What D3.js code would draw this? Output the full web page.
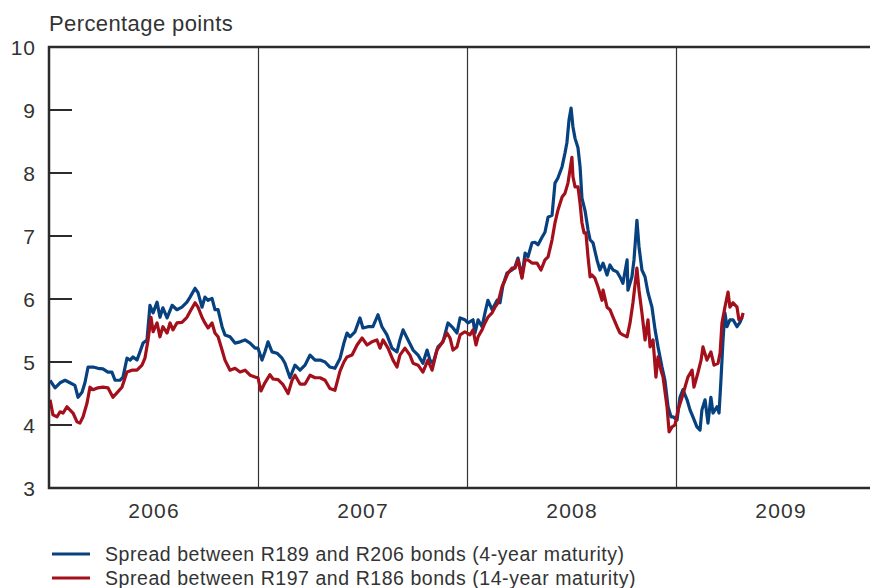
<!DOCTYPE html>
<html>
<head>
<meta charset="utf-8">
<script src="https://cdn.jsdelivr.net/npm/d3@7"></script>
<style>
  body { margin: 0; background: #fff; }
  text { font-family: "Liberation Sans", Arial, sans-serif; fill: #333; }
</style>
</head>
<body>
<svg id="chart" width="870" height="588"></svg>
<script>
// time is in decimal years
const yTicks = [3, 4, 5, 6, 7, 8, 9, 10];
const years = [2006, 2007, 2008, 2009];
const seriesNames = [
    "Spread between R189 and R206 bonds (4-year maturity)",
    "Spread between R197 and R186 bonds (14-year maturity)"
];

const blueTime = [2006.005,2006.029,2006.053,2006.077,2006.100,2006.124,2006.139,2006.158,2006.172,2006.187,
    2006.211,2006.234,2006.258,2006.282,2006.301,2006.316,2006.340,2006.354,2006.373,2006.388,
    2006.402,2006.421,2006.435,2006.450,2006.469,2006.483,2006.498,2006.517,2006.531,2006.545,
    2006.565,2006.589,2006.612,2006.636,2006.660,2006.675,2006.699,2006.713,2006.732,2006.746,
    2006.761,2006.780,2006.794,2006.809,2006.828,2006.842,2006.866,2006.890,2006.914,2006.938,
    2006.962,2006.986,2007.000,2007.019,2007.033,2007.048,2007.067,2007.091,2007.115,2007.129,
    2007.153,2007.177,2007.201,2007.225,2007.249,2007.273,2007.297,2007.321,2007.344,2007.368,
    2007.392,2007.411,2007.426,2007.440,2007.464,2007.488,2007.502,2007.526,2007.550,2007.574,
    2007.593,2007.617,2007.641,2007.665,2007.679,2007.694,2007.718,2007.742,2007.766,2007.789,
    2007.809,2007.823,2007.837,2007.861,2007.885,2007.909,2007.933,2007.952,2007.967,2007.990,
    2008.005,2008.029,2008.038,2008.053,2008.072,2008.086,2008.100,2008.120,2008.144,2008.158,
    2008.172,2008.191,2008.215,2008.230,2008.244,2008.263,2008.278,2008.292,2008.311,2008.325,
    2008.340,2008.359,2008.373,2008.388,2008.407,2008.421,2008.435,2008.455,2008.469,2008.478,
    2008.488,2008.498,2008.507,2008.517,2008.531,2008.541,2008.550,2008.565,2008.579,2008.589,
    2008.603,2008.622,2008.636,2008.651,2008.670,2008.684,2008.699,2008.718,2008.732,2008.746,
    2008.766,2008.770,2008.789,2008.799,2008.813,2008.823,2008.837,2008.852,2008.866,2008.885,
    2008.900,2008.914,2008.933,2008.947,2008.962,2008.976,2008.986,2009.005,2009.019,2009.033,
    2009.053,2009.067,2009.081,2009.100,2009.115,2009.124,2009.139,2009.153,2009.167,2009.177,
    2009.196,2009.206,2009.215,2009.225,2009.234,2009.244,2009.258,2009.273,2009.292,2009.306,
    2009.316];
const blueValues = [4.71,4.59,4.67,4.71,4.67,4.63,4.44,4.52,4.67,4.92,
    4.92,4.90,4.89,4.84,4.84,4.71,4.71,4.76,5.06,5.03,
    5.08,5.03,5.16,5.30,5.35,5.90,5.78,5.95,5.71,5.86,
    5.70,5.90,5.83,5.87,5.95,6.03,6.17,6.10,5.87,6.03,
    5.98,6.01,5.83,5.83,5.56,5.43,5.40,5.30,5.32,5.35,
    5.30,5.22,5.22,5.03,5.16,5.32,5.16,5.14,5.06,4.98,
    4.75,4.95,4.87,4.95,5.11,5.03,5.03,5.00,4.92,4.90,
    5.05,5.30,5.46,5.40,5.48,5.70,5.54,5.56,5.56,5.75,
    5.56,5.43,5.22,5.16,5.35,5.51,5.35,5.19,5.11,4.98,
    5.19,5.03,4.98,5.24,5.32,5.62,5.54,5.46,5.70,5.67,
    5.62,5.67,5.46,5.67,5.56,5.78,5.98,5.83,5.98,5.94,
    6.22,6.41,6.46,6.51,6.65,6.35,6.73,6.67,6.89,6.90,
    6.86,6.98,7.06,7.30,7.33,7.84,7.92,8.10,8.32,8.48,
    8.84,9.03,8.73,8.55,8.40,8.10,7.60,7.40,7.10,6.94,
    6.89,6.62,6.46,6.57,6.38,6.54,6.46,6.43,6.35,6.25,
    6.62,6.14,6.35,6.62,7.25,6.83,6.46,6.35,6.10,5.87,
    5.51,5.24,4.92,4.71,4.29,4.13,4.13,4.08,4.44,4.56,
    4.40,4.24,4.13,3.97,3.92,4.24,4.40,4.03,4.44,4.19,
    4.29,4.19,4.71,5.35,5.78,5.56,5.67,5.67,5.56,5.63,
    5.71];

const redTime = [2006.005,2006.019,2006.038,2006.053,2006.067,2006.086,2006.100,2006.115,2006.134,2006.148,
    2006.163,2006.182,2006.196,2006.211,2006.234,2006.258,2006.282,2006.306,2006.325,2006.349,
    2006.373,2006.397,2006.421,2006.445,2006.459,2006.474,2006.488,2006.498,2006.517,2006.531,
    2006.545,2006.565,2006.579,2006.593,2006.612,2006.636,2006.660,2006.675,2006.699,2006.713,
    2006.732,2006.746,2006.761,2006.780,2006.794,2006.809,2006.828,2006.842,2006.866,2006.890,
    2006.914,2006.938,2006.962,2006.986,2007.000,2007.014,2007.033,2007.057,2007.072,2007.096,
    2007.120,2007.144,2007.163,2007.177,2007.201,2007.225,2007.249,2007.273,2007.297,2007.321,
    2007.344,2007.368,2007.392,2007.411,2007.426,2007.450,2007.474,2007.498,2007.522,2007.545,
    2007.569,2007.584,2007.598,2007.622,2007.646,2007.665,2007.679,2007.703,2007.727,2007.742,
    2007.766,2007.789,2007.813,2007.833,2007.856,2007.880,2007.904,2007.919,2007.933,2007.952,
    2007.967,2007.990,2008.014,2008.029,2008.043,2008.053,2008.072,2008.086,2008.100,2008.120,
    2008.134,2008.148,2008.167,2008.182,2008.196,2008.215,2008.230,2008.244,2008.263,2008.278,
    2008.292,2008.311,2008.335,2008.354,2008.373,2008.388,2008.407,2008.421,2008.435,2008.455,
    2008.469,2008.483,2008.493,2008.502,2008.507,2008.517,2008.531,2008.541,2008.550,2008.560,
    2008.569,2008.579,2008.589,2008.598,2008.612,2008.627,2008.646,2008.651,2008.670,2008.684,
    2008.699,2008.718,2008.732,2008.746,2008.766,2008.780,2008.794,2008.813,2008.823,2008.837,
    2008.852,2008.866,2008.876,2008.890,2008.904,2008.914,2008.928,2008.938,2008.957,2008.967,
    2008.981,2008.995,2009.010,2009.029,2009.043,2009.057,2009.077,2009.086,2009.105,2009.120,
    2009.129,2009.148,2009.167,2009.182,2009.201,2009.211,2009.220,2009.234,2009.249,2009.258,
    2009.273,2009.292,2009.301,2009.316,2009.321];
const redValues = [4.40,4.16,4.13,4.21,4.19,4.29,4.24,4.19,4.05,4.03,
    4.13,4.35,4.60,4.56,4.59,4.60,4.59,4.44,4.51,4.60,
    4.84,4.87,4.87,4.95,5.06,5.35,5.71,5.48,5.62,5.40,
    5.56,5.46,5.62,5.51,5.62,5.63,5.71,5.80,5.94,5.87,
    5.71,5.62,5.54,5.62,5.46,5.40,5.19,5.03,4.87,4.90,
    4.84,4.87,4.79,4.76,4.75,4.54,4.67,4.80,4.73,4.72,
    4.64,4.50,4.71,4.79,4.65,4.65,4.79,4.75,4.75,4.71,
    4.58,4.55,4.85,5.00,5.08,5.11,5.27,5.38,5.27,5.32,
    5.35,5.22,5.35,5.22,5.03,4.92,5.11,5.22,5.11,4.98,
    4.95,4.84,5.03,4.87,5.19,5.30,5.46,5.38,5.19,5.24,
    5.43,5.48,5.43,5.51,5.27,5.40,5.51,5.62,5.71,5.78,
    5.87,5.94,6.19,6.30,6.41,6.49,6.49,6.62,6.33,6.62,
    6.62,6.57,6.57,6.46,6.62,6.67,6.94,7.21,7.41,7.62,
    7.68,7.84,8.05,8.25,7.94,7.78,7.78,7.52,7.21,7.05,
    7.05,6.67,6.35,6.38,6.33,6.19,5.98,6.14,5.87,5.83,
    5.71,5.56,5.46,5.43,5.40,5.62,5.94,6.49,6.14,5.78,
    5.35,5.67,5.24,5.35,4.76,5.08,4.87,4.76,4.29,3.89,
    3.97,4.00,4.24,4.44,4.60,4.76,4.87,4.60,4.83,5.03,
    5.24,5.03,5.16,4.95,4.98,5.14,5.62,5.87,6.11,5.87,
    5.94,5.87,5.67,5.71,5.78];

const blueColor = "#07417f";
const redColor = "#a3101b";

const svg = d3.select("#chart");
const plotLeft = 49, plotRight = 870, plotTop = 47, plotBottom = 488;

const x = d3.scaleLinear()
    .domain([2006, 2006 + (plotRight - plotLeft) / 209])
    .range([plotLeft, plotRight]);
const y = d3.scaleLinear()
    .domain([3, 10])
    .range([plotBottom, plotTop]);

const blueData = blueTime.map((t, i) => ({ t: t, v: blueValues[i] }));
const redData = redTime.map((t, i) => ({ t: t, v: redValues[i] }));

const line = d3.line()
    .x(d => x(d.t))
    .y(d => y(d.v));

// year separators
svg.selectAll(".yearline")
    .data(years.slice(1))
    .enter().append("line")
    .attr("class", "yearline")
    .attr("x1", d => Math.round(x(d)) + 0.5)
    .attr("x2", d => Math.round(x(d)) + 0.5)
    .attr("y1", plotTop)
    .attr("y2", plotBottom)
    .attr("stroke", "#333")
    .attr("stroke-width", 1.2);

// small inward ticks
svg.selectAll(".ytick")
    .data(yTicks.filter(d => d > 3 && d < 10))
    .enter().append("line")
    .attr("class", "ytick")
    .attr("x1", plotLeft)
    .attr("x2", plotLeft + 23)
    .attr("y1", d => y(d))
    .attr("y2", d => y(d))
    .attr("stroke", "#2b2b2b")
    .attr("stroke-width", 2);

svg.append("path")
    .datum(blueData)
    .attr("d", line)
    .attr("fill", "none")
    .attr("stroke", blueColor)
    .attr("stroke-width", 3.2)
    .attr("stroke-linejoin", "round");

svg.append("path")
    .datum(redData)
    .attr("d", line)
    .attr("fill", "none")
    .attr("stroke", redColor)
    .attr("stroke-width", 3.2)
    .attr("stroke-linejoin", "round");

// frame: left axis, top line, bottom axis
svg.append("path")
    .attr("d", `M${plotRight},${plotTop}H${plotLeft}V${plotBottom}H${plotRight}`)
    .attr("fill", "none")
    .attr("stroke", "#2b2b2b")
    .attr("stroke-width", 2.5);

svg.selectAll(".ylabel")
    .data(yTicks)
    .enter().append("text")
    .attr("class", "ylabel")
    .attr("x", 36)
    .attr("y", d => y(d))
    .attr("dy", "0.36em")
    .attr("text-anchor", "end")
    .style("font-size", "21px")
    .style("letter-spacing", "1px")
    .text(d => d);

svg.selectAll(".xlabel")
    .data(years)
    .enter().append("text")
    .attr("class", "xlabel")
    .attr("x", d => x(d + 0.5) + 0.6)
    .attr("y", 518)
    .attr("text-anchor", "middle")
    .style("font-size", "21px")
    .style("letter-spacing", "1.2px")
    .text(d => d);

svg.append("text")
    .attr("x", 49)
    .attr("y", 31)
    .style("font-size", "22px")
    .style("letter-spacing", "0.4px")
    .text("Percentage points");

const legend = svg.selectAll(".legend")
    .data(seriesNames)
    .enter().append("g")
    .attr("class", "legend")
    .attr("transform", (d, i) => `translate(52,${554 + i * 24})`);

legend.append("line")
    .attr("x1", 0)
    .attr("x2", 38)
    .attr("stroke", (d, i) => i === 0 ? blueColor : redColor)
    .attr("stroke-width", 3);

legend.append("text")
    .attr("x", 53)
    .attr("dy", "0.36em")
    .style("font-size", "19.5px")
    .style("letter-spacing", "0.55px")
    .text(d => d);
</script>
</body>
</html>
